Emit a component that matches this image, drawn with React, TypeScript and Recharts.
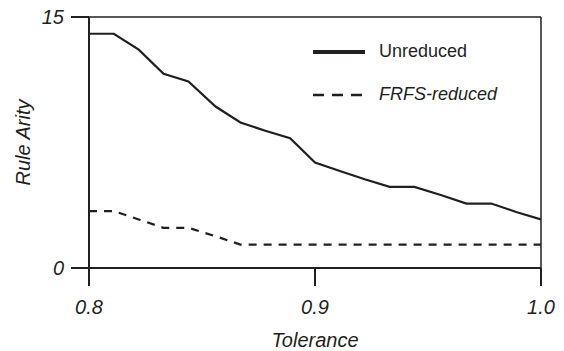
import React from 'react';
import {
  LineChart,
  Line,
  XAxis,
  YAxis,
  Label,
  Legend,
  ReferenceLine,
} from 'recharts';

const tolerance = [
  0.8, 0.811, 0.822, 0.833, 0.844, 0.856, 0.867, 0.878, 0.889, 0.9, 0.911,
  0.922, 0.933, 0.944, 0.956, 0.967, 0.978, 0.989, 1.0,
];
const unreduced = [
  14, 14, 13.05, 11.6, 11.15, 9.65, 8.7, 8.2, 7.75, 6.3, 5.8, 5.3, 4.85, 4.85,
  4.35, 3.85, 3.85, 3.35, 2.9,
];
const frfsReduced = [
  3.4, 3.4, 2.9, 2.4, 2.4, 1.9, 1.4, 1.4, 1.4, 1.4, 1.4, 1.4, 1.4, 1.4, 1.4,
  1.4, 1.4, 1.4, 1.4,
];
const xTicks = [0.8, 0.9, 1.0];
const yTicks = [0, 15];

const data = tolerance.map((tol, i) => ({
  tol,
  unreduced: unreduced[i],
  frfs: frfsReduced[i],
}));

const INK = '#231f20';
const FONT = '"Liberation Sans", Arial, sans-serif';

const legendItems = [
  { key: 'unreduced', label: 'Unreduced', dash: undefined, width: 4, italic: false },
  { key: 'frfs', label: 'FRFS-reduced', dash: '11 8', width: 2.5, italic: true },
];

const ChartLegend = () => (
  <div style={{ fontFamily: FONT, fontSize: 18, color: INK }}>
    {legendItems.map((item) => (
      <div
        key={item.key}
        style={{ display: 'flex', alignItems: 'center', height: 43 }}
      >
        <svg width={52} height={6} style={{ display: 'block' }}>
          <line
            x1={0}
            y1={3}
            x2={52}
            y2={3}
            stroke={INK}
            strokeWidth={item.width}
            strokeDasharray={item.dash}
          />
        </svg>
        <span
          style={{
            marginLeft: 14,
            fontStyle: item.italic ? 'italic' : 'normal',
            whiteSpace: 'nowrap',
          }}
        >
          {item.label}
        </span>
      </div>
    ))}
  </div>
);

const tickStyle = {
  fontFamily: FONT,
  fontSize: 20,
  fontStyle: 'italic',
  fill: INK,
};

export default function App() {
  return (
    <div style={{ position: 'absolute', left: 0, top: 0, background: '#fff' }}>
      <LineChart
        width={564}
        height={351}
        data={data}
        margin={{ top: 17, right: 23, left: 0, bottom: 0 }}
      >
        <XAxis
          dataKey="tol"
          type="number"
          domain={[0.8, 1.0]}
          ticks={xTicks}
          tickFormatter={(v: number) => v.toFixed(1)}
          height={83}
          tickSize={18}
          tickMargin={14}
          tick={tickStyle}
          axisLine={{ stroke: INK, strokeWidth: 2 }}
          tickLine={{ stroke: INK, strokeWidth: 2 }}
          allowDataOverflow
        >
          <Label
            value="Tolerance"
            position="insideBottom"
            offset={4}
            style={tickStyle}
          />
        </XAxis>
        <YAxis
          type="number"
          domain={[0, 15]}
          ticks={yTicks}
          width={89}
          tickSize={18}
          tickMargin={7}
          tick={tickStyle}
          axisLine={{ stroke: INK, strokeWidth: 2 }}
          tickLine={{ stroke: INK, strokeWidth: 2 }}
          allowDataOverflow
        >
          <Label
            value="Rule Arity"
            position="center"
            angle={-90}
            dx={-22}
            style={tickStyle}
          />
        </YAxis>
        <ReferenceLine y={15} stroke={INK} strokeWidth={1.5} />
        <ReferenceLine x={1.0} stroke={INK} strokeWidth={1.5} />
        <Legend
          layout="horizontal"
          verticalAlign="middle"
          align="center"
          content={<ChartLegend />}
          wrapperStyle={{ left: 313, top: 30, width: 'auto' }}
        />
        <Line
          dataKey="unreduced"
          type="linear"
          stroke={INK}
          strokeWidth={2.2}
          dot={false}
          isAnimationActive={false}
        />
        <Line
          dataKey="frfs"
          type="linear"
          stroke={INK}
          strokeWidth={2.2}
          strokeDasharray="8 7"
          dot={false}
          isAnimationActive={false}
        />
      </LineChart>
    </div>
  );
}
